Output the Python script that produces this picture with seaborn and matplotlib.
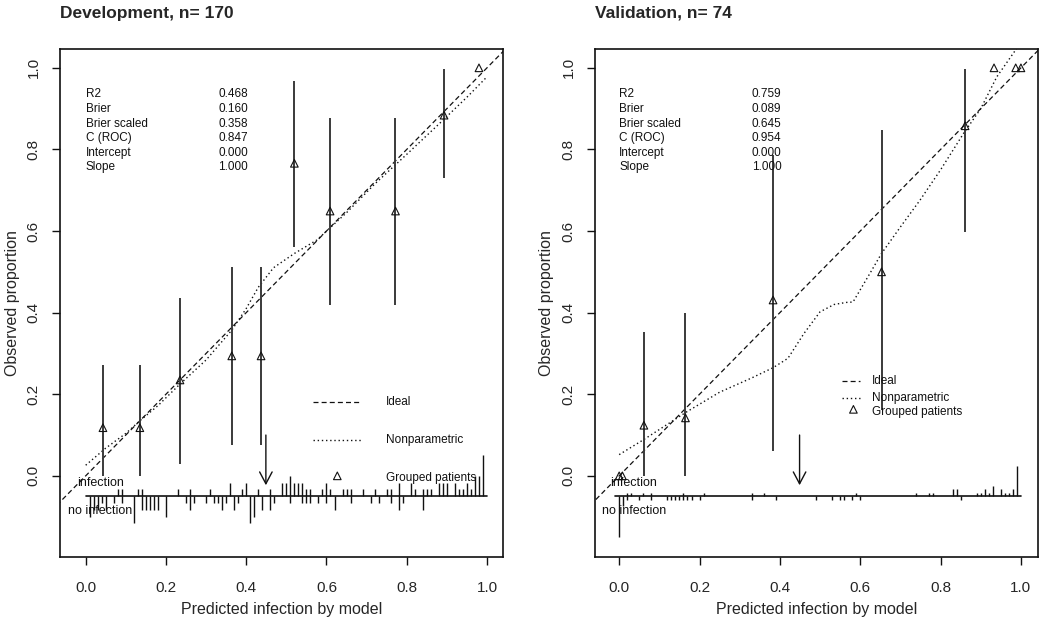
import numpy as np
import pandas as pd
import matplotlib
matplotlib.use('Agg')
import matplotlib.pyplot as plt
import seaborn as sns

# ---- development cohort (n = 170) ----
dev_group_x = [0.043, 0.135, 0.235, 0.364, 0.437, 0.520, 0.609, 0.772, 0.893, 0.980]
dev_group_y = [0.118, 0.118, 0.235, 0.294, 0.294, 0.766, 0.649, 0.649, 0.884, 1.000]
dev_ci_lo = [0.000, 0.000, 0.030, 0.075, 0.075, 0.561, 0.418, 0.418, 0.729, 1.000]
dev_ci_hi = [0.271, 0.271, 0.436, 0.511, 0.511, 0.967, 0.876, 0.876, 0.998, 1.000]

dev_np_x = [0.0, 0.05, 0.10, 0.135, 0.18, 0.235, 0.30, 0.364, 0.40, 0.43, 0.468,
            0.52, 0.576, 0.65, 0.72, 0.80, 0.88, 0.95, 1.0]
dev_np_y = [0.026, 0.068, 0.104, 0.135, 0.172, 0.225, 0.284, 0.357, 0.41, 0.462, 0.51,
            0.545, 0.578, 0.645, 0.715, 0.788, 0.862, 0.928, 0.978]

dev_bins1 = [0.08, 0.09, 0.13, 0.14, 0.23, 0.26, 0.31, 0.36, 0.39, 0.40, 0.43, 0.46,
             0.49, 0.50, 0.51, 0.52, 0.53, 0.54, 0.55, 0.56, 0.59, 0.60, 0.61, 0.64,
             0.65, 0.66, 0.69, 0.72, 0.75, 0.76, 0.78, 0.81, 0.82, 0.84, 0.85, 0.86,
             0.88, 0.89, 0.90, 0.92, 0.93, 0.94, 0.95, 0.96, 0.97, 0.98, 0.99]
dev_f1 = [1, 1, 1, 1, 1, 1, 1, 2, 1, 2, 1, 1,
          2, 2, 3, 2, 2, 2, 1, 1, 1, 2, 1, 1,
          1, 1, 1, 1, 1, 1, 2, 2, 1, 1, 1, 1,
          2, 2, 2, 2, 1, 1, 2, 1, 3, 3, 6]
dev_bins0 = [0.01, 0.02, 0.03, 0.04, 0.05, 0.07, 0.09, 0.12, 0.14, 0.15, 0.16, 0.17,
             0.18, 0.20, 0.25, 0.26, 0.27, 0.30, 0.32, 0.33, 0.34, 0.35, 0.37, 0.38,
             0.41, 0.42, 0.44, 0.46, 0.47, 0.51, 0.54, 0.55, 0.56, 0.58, 0.60, 0.62,
             0.66, 0.71, 0.73, 0.76, 0.78, 0.79, 0.84]
dev_f0 = [3, 2, 2, 1, 2, 1, 1, 4, 2, 2, 2, 2,
          2, 3, 1, 2, 1, 1, 1, 1, 2, 1, 2, 1,
          4, 3, 2, 2, 1, 1, 1, 1, 1, 1, 1, 2,
          1, 1, 1, 1, 2, 1, 2]
dev_stats = ['0.468', '0.160', '0.358', '0.847', '0.000', '1.000']

# ---- validation cohort (n = 74) ----
val_group_x = [0.000, 0.008, 0.0615, 0.165, 0.383, 0.653, 0.861, 0.933, 0.987, 1.000]
val_group_y = [0.000, 0.000, 0.124, 0.142, 0.431, 0.500, 0.858, 1.000, 1.000, 1.000]
val_ci_lo = [0.000, 0.000, 0.000, 0.000, 0.061, 0.161, 0.598, 1.000, 1.000, 1.000]
val_ci_hi = [0.000, 0.000, 0.353, 0.400, 0.786, 0.847, 0.998, 1.000, 1.000, 1.000]

val_np_x = [0.0, 0.063, 0.165, 0.25, 0.33, 0.383, 0.42, 0.46, 0.50, 0.535, 0.565,
            0.582, 0.624, 0.653, 0.70, 0.749, 0.80, 0.857, 0.90, 0.94, 0.989]
val_np_y = [0.052, 0.09, 0.155, 0.205, 0.24, 0.265, 0.288, 0.349, 0.402, 0.42, 0.425,
            0.426, 0.496, 0.545, 0.61, 0.676, 0.75, 0.839, 0.90, 0.978, 1.047]

val_bins1 = [0.02, 0.03, 0.06, 0.08, 0.16, 0.21, 0.33, 0.36, 0.59, 0.74, 0.77, 0.78,
             0.83, 0.84, 0.89, 0.90, 0.91, 0.92, 0.93, 0.95, 0.96, 0.97, 0.98, 0.99]
val_f1 = [1, 1, 1, 1, 1, 1, 1, 1, 1, 1, 1, 1,
          2, 2, 1, 1, 2, 1, 3, 2, 1, 1, 2, 9]
val_bins0 = [0.00, 0.01, 0.02, 0.05, 0.08, 0.12, 0.13, 0.14, 0.15, 0.16, 0.17, 0.18,
             0.20, 0.33, 0.39, 0.49, 0.53, 0.55, 0.56, 0.58, 0.60, 0.85]
val_f0 = [12, 3, 1, 1, 1, 1, 1, 1, 1, 1, 1, 1,
          1, 1, 1, 1, 1, 1, 1, 1, 1, 1]
val_stats = ['0.759', '0.089', '0.645', '0.954', '0.000', '1.000']

stat_names = ['R2', 'Brier', 'Brier scaled', 'C (ROC)', 'Intercept', 'Slope']
ticks = [0.0, 0.2, 0.4, 0.6, 0.8, 1.0]
tick_labels = ['0.0', '0.2', '0.4', '0.6', '0.8', '1.0']

sns.set_style('white')
plt.rcParams['font.family'] = ['Liberation Sans', 'DejaVu Sans']

FG = '#111111'
BAR = '#3a3a3a'
LINE_BINS = -0.05
DASH = (0, (4, 2.5))
DOT = (0, (1, 2))


def painel(ax, gx, gy, lo, hi, npx, npy, b1, f1, b0, f0, stats, xlim, legenda):
    # ideal line
    ideal = pd.DataFrame({'x': [-0.2, 1.2], 'y': [-0.2, 1.2]})
    sns.lineplot(data=ideal, x='x', y='y', ax=ax, color=FG, lw=0.9, linestyle=DASH)
    # nonparametric smoother
    npdf = pd.DataFrame({'x': npx, 'y': npy})
    sns.lineplot(data=npdf, x='x', y='y', ax=ax, color=FG, lw=1.0,
                 linestyle=DOT, sort=False)
    # grouped patients + CI
    ax.vlines(gx, lo, hi, color=BAR, lw=1.4)
    grp = pd.DataFrame({'x': gx, 'y': gy})
    sns.scatterplot(data=grp, x='x', y='y', ax=ax, marker='^', s=30,
                    facecolor='none', edgecolor=FG, linewidth=0.8, zorder=5)

    # spike histogram of predictions
    maxf = max(max(f1), max(f0))
    h1 = 0.1 * np.array(f1) / maxf
    h0 = 0.1 * np.array(f0) / maxf
    ax.vlines(b1, LINE_BINS, LINE_BINS + h1, color=FG, lw=1.0)
    ax.vlines(b0, LINE_BINS, LINE_BINS - h0, color=FG, lw=1.0)
    ax.plot([min(min(b0), min(b1)) - 0.01, max(max(b0), max(b1)) + 0.01],
            [LINE_BINS, LINE_BINS], color=FG, lw=1.2)
    ax.text(0.037, -0.017, 'infection', ha='center', va='center', fontsize=9, color=FG)
    ax.text(0.037, -0.087, 'no infection', ha='center', va='center', fontsize=9, color=FG)

    # cut-off arrow
    ax.annotate('', xy=(0.449, -0.023), xytext=(0.449, 0.1),
                arrowprops=dict(arrowstyle='->,head_length=0.85,head_width=0.45',
                                color=FG, lw=1.0, shrinkA=0, shrinkB=0))

    # statistics block
    for i, (nm, val) in enumerate(zip(stat_names, stats)):
        y = 0.935 - i * 0.0358
        ax.text(0.0, y, nm, fontsize=8.5, va='center', ha='left', color=FG)
        ax.text(0.33, y, val, fontsize=8.5, va='center', ha='left', color=FG)

    # legend drawn in data coords, as in the original
    lx0, lx1, tx, ys, tri = legenda
    ax.plot([lx0, lx1], [ys[0], ys[0]], color=FG, lw=0.9, linestyle=DASH)
    ax.plot([lx0, lx1], [ys[1], ys[1]], color=FG, lw=1.0, linestyle=DOT)
    ax.scatter([tri[0]], [tri[1]], marker='^', s=30, facecolor='none',
               edgecolor=FG, linewidth=0.8, zorder=5)
    for lab, y in zip(['Ideal', 'Nonparametric', 'Grouped patients'], ys):
        ax.text(tx, y, lab, fontsize=8.5, va='center', ha='left', color=FG)

    ax.set_xlim(*xlim)
    ax.set_ylim(-0.199, 1.046)
    ax.set_xticks(ticks)
    ax.set_xticklabels(tick_labels, fontsize=11)
    ax.set_yticks(ticks)
    ax.set_yticklabels(tick_labels, fontsize=11, rotation=90, va='center')
    ax.tick_params(axis='both', direction='out', length=6, width=1.0, color=FG,
                   bottom=True, left=True)
    ax.tick_params(axis='x', pad=11)
    ax.tick_params(axis='y', pad=8)
    for sp in ax.spines.values():
        sp.set_visible(True)
        sp.set_color(FG)
        sp.set_linewidth(1.2)
    ax.set_xlabel('Predicted infection by model', fontsize=11.5, labelpad=5.5)
    ax.set_ylabel('Observed proportion', fontsize=11.5, labelpad=5)
    ax.grid(False)


fig = plt.figure(figsize=(10.4, 6.21), dpi=100)
ax1 = fig.add_axes([0.0577, 0.103, 0.426, 0.818])
ax2 = fig.add_axes([0.572, 0.103, 0.4257, 0.818])

painel(ax1, dev_group_x, dev_group_y, dev_ci_lo, dev_ci_hi, dev_np_x, dev_np_y,
       dev_bins1, dev_f1, dev_bins0, dev_f0, dev_stats, (-0.064, 1.04),
       (0.566, 0.685, 0.748, [0.18, 0.0875, -0.005], (0.627, 0.0)))
painel(ax2, val_group_x, val_group_y, val_ci_lo, val_ci_hi, val_np_x, val_np_y,
       val_bins1, val_f1, val_bins0, val_f0, val_stats, (-0.0605, 1.0415),
       (0.555, 0.60, 0.63, [0.232, 0.192, 0.157], (0.583, 0.163)))

fig.text(0.0577, 0.979, 'Development, n= 170', fontsize=12.5, fontweight='bold',
         ha='left', va='center')
fig.text(0.572, 0.979, 'Validation, n= 74', fontsize=12.5, fontweight='bold',
         ha='left', va='center')

fig.savefig('out.png', dpi=100, facecolor='white')
